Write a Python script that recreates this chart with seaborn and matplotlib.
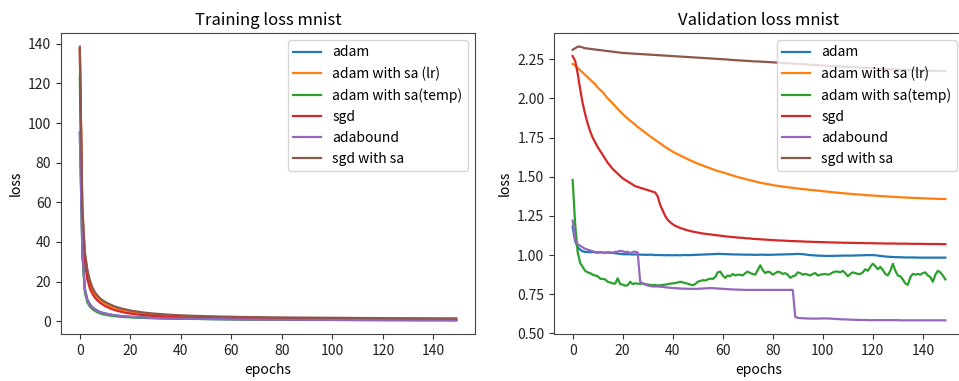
import matplotlib
matplotlib.use("Agg")
import matplotlib.pyplot as plt
import seaborn as sns
import pandas as pd

plt.rcParams["font.family"] = ["Noto Sans CJK KR", "DejaVu Sans"]

epochs = list(range(150))

series_names = ["adam", "adam with sa (lr)", "adam with sa(temp)", "sgd", "adabound", "sgd with sa"]
series_colors = ["#1f77b4", "#ff7f0e", "#2ca02c", "#d62728", "#9467bd", "#8c564b"]

# ---- training loss ----
train_adam = [
    95, 35, 16.5, 10.9, 8.6, 7.1, 6.1, 5.3, 4.7, 4.3,
    3.95, 3.65, 3.4, 3.19, 3.0, 2.85, 2.71, 2.59, 2.48, 2.38,
    2.29, 2.2, 2.12, 2.05, 1.98, 1.92, 1.86, 1.81, 1.76, 1.71,
    1.67, 1.63, 1.59, 1.55, 1.52, 1.48, 1.45, 1.42, 1.39, 1.37,
    1.34, 1.32, 1.29, 1.27, 1.25, 1.23, 1.21, 1.19, 1.17, 1.15,
    1.13, 1.12, 1.10, 1.08, 1.07, 1.05, 1.04, 1.03, 1.01, 1.00,
    0.99, 0.98, 0.96, 0.95, 0.94, 0.93, 0.92, 0.91, 0.90, 0.89,
    0.88, 0.87, 0.86, 0.86, 0.85, 0.84, 0.83, 0.82, 0.82, 0.81,
    0.80, 0.79, 0.79, 0.78, 0.77, 0.77, 0.76, 0.75, 0.75, 0.74,
    0.73, 0.73, 0.72, 0.72, 0.71, 0.70, 0.70, 0.69, 0.69, 0.68,
    0.68, 0.67, 0.67, 0.66, 0.66, 0.65, 0.65, 0.64, 0.64, 0.63,
    0.63, 0.62, 0.62, 0.62, 0.61, 0.61, 0.60, 0.60, 0.60, 0.59,
    0.59, 0.58, 0.58, 0.58, 0.57, 0.57, 0.57, 0.56, 0.56, 0.56,
    0.55, 0.55, 0.55, 0.54, 0.54, 0.54, 0.53, 0.53, 0.53, 0.52,
    0.52, 0.52, 0.52, 0.51, 0.51, 0.51, 0.50, 0.50, 0.50, 0.50,
]
train_adam_sa_lr = [
    137.5, 56, 33, 24, 19, 15.7, 13.5, 12, 10.8, 9.8,
    9.0, 8.3, 7.7, 7.2, 6.7, 6.3, 5.9, 5.6, 5.3, 5.0,
    4.7, 4.5, 4.3, 4.1, 3.95, 3.8, 3.65, 3.5, 3.4, 3.3,
    3.2, 3.1, 3.0, 2.92, 2.85, 2.78, 2.71, 2.64, 2.58, 2.52,
    2.46, 2.41, 2.36, 2.31, 2.27, 2.23, 2.19, 2.15, 2.11, 2.08,
    2.05, 2.02, 1.99, 1.96, 1.93, 1.91, 1.88, 1.86, 1.84, 1.82,
    1.80, 1.78, 1.76, 1.74, 1.72, 1.71, 1.69, 1.67, 1.66, 1.64,
    1.63, 1.62, 1.60, 1.59, 1.58, 1.56, 1.55, 1.54, 1.53, 1.52,
    1.51, 1.50, 1.49, 1.48, 1.47, 1.46, 1.45, 1.44, 1.43, 1.42,
    1.41, 1.40, 1.39, 1.38, 1.38, 1.37, 1.36, 1.35, 1.35, 1.34,
    1.33, 1.32, 1.32, 1.31, 1.30, 1.30, 1.29, 1.28, 1.28, 1.27,
    1.26, 1.26, 1.25, 1.25, 1.24, 1.23, 1.23, 1.22, 1.22, 1.21,
    1.21, 1.20, 1.20, 1.19, 1.19, 1.18, 1.18, 1.17, 1.17, 1.16,
    1.16, 1.15, 1.15, 1.14, 1.14, 1.13, 1.13, 1.13, 1.12, 1.12,
    1.11, 1.11, 1.10, 1.10, 1.10, 1.09, 1.09, 1.08, 1.08, 1.08,
]
train_adam_sa_temp = [
    123, 34, 14.5, 9.5, 7.4, 6.1, 5.2, 4.5, 4.0, 3.6,
    3.3, 3.05, 2.85, 2.68, 2.53, 2.4, 2.29, 2.19, 2.1, 2.02,
    1.95, 1.88, 1.82, 1.77, 1.72, 1.67, 1.63, 1.59, 1.55, 1.52,
    1.49, 1.46, 1.43, 1.40, 1.38, 1.35, 1.33, 1.31, 1.29, 1.27,
    1.25, 1.23, 1.21, 1.20, 1.18, 1.17, 1.15, 1.14, 1.12, 1.11,
    1.10, 1.09, 1.07, 1.06, 1.05, 1.04, 1.03, 1.02, 1.01, 1.00,
    0.99, 0.98, 0.97, 0.96, 0.95, 0.94, 0.93, 0.93, 0.92, 0.91,
    0.90, 0.90, 0.89, 0.88, 0.87, 0.87, 0.86, 0.85, 0.85, 0.84,
    0.84, 0.83, 0.82, 0.82, 0.81, 0.81, 0.80, 0.80, 0.79, 0.79,
    0.78, 0.78, 0.77, 0.77, 0.76, 0.76, 0.75, 0.75, 0.75, 0.74,
    0.74, 0.73, 0.73, 0.73, 0.72, 0.72, 0.71, 0.71, 0.71, 0.70,
    0.70, 0.70, 0.69, 0.69, 0.69, 0.68, 0.68, 0.68, 0.67, 0.67,
    0.67, 0.67, 0.66, 0.66, 0.66, 0.65, 0.65, 0.65, 0.65, 0.64,
    0.64, 0.64, 0.64, 0.63, 0.63, 0.63, 0.63, 0.62, 0.62, 0.62,
    0.62, 0.61, 0.61, 0.61, 0.61, 0.60, 0.60, 0.60, 0.60, 0.60,
]
train_sgd = [
    137, 52, 30, 21, 16.5, 13.8, 11.9, 10.5, 9.4, 8.5,
    7.7, 7.1, 6.5, 6.0, 5.6, 5.2, 4.9, 4.6, 4.3, 4.1,
    3.9, 3.7, 3.55, 3.4, 3.26, 3.13, 3.01, 2.9, 2.8, 2.7,
    2.61, 2.53, 2.45, 2.38, 2.31, 2.25, 2.19, 2.13, 2.08, 2.03,
    1.98, 1.94, 1.90, 1.86, 1.82, 1.78, 1.75, 1.72, 1.69, 1.66,
    1.63, 1.60, 1.58, 1.55, 1.53, 1.51, 1.49, 1.47, 1.45, 1.43,
    1.41, 1.39, 1.38, 1.36, 1.35, 1.33, 1.32, 1.30, 1.29, 1.28,
    1.27, 1.25, 1.24, 1.23, 1.22, 1.21, 1.20, 1.19, 1.18, 1.17,
    1.16, 1.15, 1.15, 1.14, 1.13, 1.12, 1.11, 1.11, 1.10, 1.09,
    1.09, 1.08, 1.07, 1.07, 1.06, 1.05, 1.05, 1.04, 1.04, 1.03,
    1.03, 1.02, 1.02, 1.01, 1.01, 1.00, 1.00, 0.99, 0.99, 0.98,
    0.98, 0.97, 0.97, 0.97, 0.96, 0.96, 0.95, 0.95, 0.95, 0.94,
    0.94, 0.94, 0.93, 0.93, 0.93, 0.92, 0.92, 0.92, 0.91, 0.91,
    0.91, 0.90, 0.90, 0.90, 0.90, 0.89, 0.89, 0.89, 0.88, 0.88,
    0.88, 0.88, 0.87, 0.87, 0.87, 0.87, 0.86, 0.86, 0.86, 0.86,
]
train_adabound = [
    95.5, 36, 16, 10.6, 8.4, 7.0, 6.0, 5.2, 4.6, 4.2,
    3.9, 3.6, 3.35, 3.15, 2.97, 2.82, 2.68, 2.56, 2.45, 2.35,
    2.26, 2.18, 2.1, 2.03, 1.96, 1.9, 1.84, 1.79, 1.74, 1.69,
    1.65, 1.61, 1.57, 1.53, 1.50, 1.46, 1.43, 1.40, 1.37, 1.35,
    1.32, 1.30, 1.27, 1.25, 1.23, 1.21, 1.19, 1.17, 1.15, 1.13,
    1.11, 1.10, 1.08, 1.06, 1.05, 1.03, 1.02, 1.01, 0.99, 0.98,
    0.97, 0.96, 0.94, 0.93, 0.92, 0.91, 0.90, 0.89, 0.88, 0.87,
    0.86, 0.85, 0.84, 0.84, 0.83, 0.82, 0.81, 0.80, 0.80, 0.79,
    0.78, 0.77, 0.77, 0.76, 0.75, 0.75, 0.74, 0.73, 0.73, 0.72,
    0.71, 0.71, 0.70, 0.70, 0.69, 0.68, 0.68, 0.67, 0.67, 0.66,
    0.66, 0.65, 0.65, 0.64, 0.64, 0.63, 0.63, 0.62, 0.62, 0.61,
    0.61, 0.60, 0.60, 0.60, 0.59, 0.59, 0.58, 0.58, 0.58, 0.57,
    0.57, 0.56, 0.56, 0.56, 0.55, 0.55, 0.55, 0.54, 0.54, 0.54,
    0.53, 0.53, 0.53, 0.52, 0.52, 0.52, 0.51, 0.51, 0.51, 0.50,
    0.50, 0.50, 0.50, 0.49, 0.49, 0.49, 0.48, 0.48, 0.48, 0.48,
]
train_sgd_sa = [
    138.5, 58, 35, 26, 20.5, 17, 14.6, 12.9, 11.6, 10.6,
    9.8, 9.1, 8.5, 7.9, 7.4, 7.0, 6.6, 6.3, 6.0, 5.7,
    5.4, 5.2, 5.0, 4.8, 4.6, 4.45, 4.3, 4.15, 4.0, 3.9,
    3.8, 3.7, 3.6, 3.5, 3.42, 3.34, 3.26, 3.19, 3.12, 3.06,
    3.0, 2.94, 2.89, 2.84, 2.79, 2.74, 2.70, 2.66, 2.62, 2.58,
    2.54, 2.51, 2.48, 2.45, 2.42, 2.39, 2.36, 2.33, 2.31, 2.28,
    2.26, 2.24, 2.21, 2.19, 2.17, 2.15, 2.13, 2.11, 2.10, 2.08,
    2.06, 2.04, 2.03, 2.01, 2.00, 1.98, 1.97, 1.95, 1.94, 1.93,
    1.91, 1.90, 1.89, 1.88, 1.87, 1.85, 1.84, 1.83, 1.82, 1.81,
    1.80, 1.79, 1.78, 1.77, 1.76, 1.75, 1.75, 1.74, 1.73, 1.72,
    1.71, 1.70, 1.70, 1.69, 1.68, 1.67, 1.67, 1.66, 1.65, 1.65,
    1.64, 1.63, 1.63, 1.62, 1.61, 1.61, 1.60, 1.60, 1.59, 1.58,
    1.58, 1.57, 1.57, 1.56, 1.56, 1.55, 1.55, 1.54, 1.54, 1.53,
    1.53, 1.52, 1.52, 1.51, 1.51, 1.50, 1.50, 1.49, 1.49, 1.49,
    1.48, 1.48, 1.47, 1.47, 1.47, 1.46, 1.46, 1.45, 1.45, 1.45,
]

# ---- validation loss ----
val_adam = [
    1.18, 1.09, 1.05, 1.035, 1.025, 1.02, 1.02, 1.018, 1.02, 1.018,
    1.017, 1.018, 1.016, 1.015, 1.016, 1.015, 1.014, 1.012, 1.01, 1.008,
    1.006, 1.005, 1.006, 1.005, 1.004, 1.004, 1.005, 1.003, 1.003, 1.002,
    1.002, 1.003, 1.002, 1.0, 1.001, 1.0, 1.0, 0.999, 1.0, 0.999,
    0.999, 1.0, 0.999, 0.999, 1.0, 1.001, 1.0, 1.0, 1.001, 1.002,
    1.002, 1.003, 1.004, 1.004, 1.005, 1.006, 1.006, 1.007, 1.008, 1.008,
    1.007, 1.006, 1.006, 1.005, 1.005, 1.004, 1.004, 1.004, 1.003, 1.003,
    1.003, 1.003, 1.002, 1.002, 1.002, 1.003, 1.003, 1.002, 1.002, 1.002,
    1.003, 1.003, 1.004, 1.004, 1.004, 1.005, 1.005, 1.006, 1.006, 1.007,
    1.008, 1.007, 1.006, 1.004, 1.002, 1.0, 0.999, 0.998, 0.997, 0.996,
    0.996, 0.995, 0.995, 0.995, 0.995, 0.996, 0.996, 0.996, 0.997, 0.997,
    0.997, 0.997, 0.997, 0.998, 0.998, 0.999, 0.999, 1.0, 1.0, 1.0,
    1.0, 0.999, 0.997, 0.995, 0.993, 0.991, 0.99, 0.989, 0.988, 0.987,
    0.987, 0.986, 0.986, 0.985, 0.985, 0.985, 0.985, 0.985, 0.984, 0.984,
    0.984, 0.984, 0.984, 0.984, 0.984, 0.984, 0.984, 0.984, 0.984, 0.984,
]
val_adam_sa_lr = [
    2.22, 2.21, 2.195, 2.18, 2.165, 2.15, 2.135, 2.12, 2.105, 2.09,
    2.07, 2.055, 2.04, 2.02, 2.00, 1.985, 1.968, 1.95, 1.933, 1.917,
    1.90, 1.886, 1.872, 1.858, 1.845, 1.832, 1.818, 1.806, 1.794, 1.782,
    1.77, 1.758, 1.746, 1.735, 1.724, 1.713, 1.702, 1.69, 1.68, 1.67,
    1.66, 1.652, 1.644, 1.636, 1.628, 1.62, 1.612, 1.605, 1.598, 1.591,
    1.584, 1.578, 1.572, 1.566, 1.56, 1.554, 1.548, 1.542, 1.536, 1.533,
    1.528, 1.523, 1.518, 1.513, 1.508, 1.503, 1.498, 1.494, 1.49, 1.486,
    1.482, 1.478, 1.474, 1.47, 1.466, 1.462, 1.459, 1.456, 1.453, 1.45,
    1.447, 1.444, 1.442, 1.44, 1.437, 1.435, 1.433, 1.431, 1.429, 1.427,
    1.425, 1.423, 1.421, 1.42, 1.418, 1.416, 1.415, 1.413, 1.412, 1.41,
    1.408, 1.406, 1.405, 1.403, 1.401, 1.40, 1.398, 1.397, 1.395, 1.394,
    1.392, 1.391, 1.39, 1.388, 1.387, 1.386, 1.385, 1.383, 1.382, 1.381,
    1.38, 1.379, 1.378, 1.377, 1.376, 1.375, 1.374, 1.373, 1.372, 1.371,
    1.37, 1.369, 1.368, 1.368, 1.367, 1.366, 1.365, 1.365, 1.364, 1.363,
    1.363, 1.362, 1.361, 1.361, 1.36, 1.36, 1.359, 1.359, 1.358, 1.358,
]
val_adam_sa_temp = [
    1.48, 1.20, 1.02, 0.95, 0.925, 0.90, 0.89, 0.885, 0.875, 0.87,
    0.865, 0.85, 0.848, 0.845, 0.83, 0.825, 0.82, 0.818, 0.852, 0.815,
    0.812, 0.805, 0.808, 0.83, 0.815, 0.82, 0.818, 0.816, 0.82, 0.815,
    0.812, 0.81, 0.808, 0.81, 0.806, 0.808, 0.81, 0.812, 0.814, 0.818,
    0.82, 0.822, 0.825, 0.83, 0.826, 0.822, 0.818, 0.812, 0.808, 0.815,
    0.83, 0.835, 0.84, 0.838, 0.845, 0.85, 0.848, 0.86, 0.89, 0.895,
    0.87, 0.855, 0.87, 0.865, 0.88, 0.87, 0.875, 0.875, 0.87, 0.885,
    0.895, 0.885, 0.88, 0.875, 0.905, 0.935, 0.905, 0.885, 0.895, 0.89,
    0.875, 0.885, 0.895, 0.89, 0.88, 0.885, 0.875, 0.855, 0.865, 0.87,
    0.89, 0.885, 0.875, 0.88, 0.875, 0.87, 0.88, 0.885, 0.87, 0.875,
    0.878, 0.88, 0.875, 0.88, 0.89, 0.895, 0.895, 0.89, 0.9, 0.885,
    0.865, 0.88, 0.89, 0.885, 0.88, 0.88, 0.89, 0.91, 0.9, 0.925,
    0.945, 0.93, 0.91, 0.925, 0.905, 0.88, 0.87, 0.9, 0.945, 0.9,
    0.87, 0.865, 0.845, 0.82, 0.81, 0.86, 0.88, 0.875, 0.88, 0.875,
    0.885, 0.89, 0.87, 0.86, 0.83, 0.875, 0.9, 0.89, 0.87, 0.845,
]
val_sgd = [
    2.27, 2.24, 2.16, 2.06, 1.97, 1.90, 1.84, 1.79, 1.75, 1.72,
    1.69, 1.665, 1.64, 1.615, 1.59, 1.57, 1.55, 1.535, 1.52, 1.505,
    1.49, 1.48, 1.47, 1.46, 1.45, 1.44, 1.435, 1.43, 1.425, 1.42,
    1.415, 1.41, 1.405, 1.40, 1.375, 1.32, 1.285, 1.25, 1.225, 1.21,
    1.197, 1.187, 1.18, 1.174, 1.168, 1.163, 1.158, 1.154, 1.15, 1.147,
    1.144, 1.141, 1.138, 1.136, 1.134, 1.132, 1.13, 1.128, 1.126, 1.124,
    1.122, 1.12, 1.118, 1.117, 1.115, 1.114, 1.112, 1.111, 1.11, 1.108,
    1.107, 1.106, 1.104, 1.103, 1.102, 1.101, 1.1, 1.099, 1.098, 1.097,
    1.096, 1.095, 1.094, 1.093, 1.093, 1.092, 1.091, 1.09, 1.09, 1.089,
    1.088, 1.088, 1.087, 1.086, 1.086, 1.085, 1.085, 1.084, 1.084, 1.083,
    1.083, 1.082, 1.082, 1.081, 1.081, 1.08, 1.08, 1.08, 1.079, 1.079,
    1.079, 1.078, 1.078, 1.078, 1.077, 1.077, 1.077, 1.076, 1.076, 1.076,
    1.076, 1.075, 1.075, 1.075, 1.075, 1.074, 1.074, 1.074, 1.074, 1.074,
    1.073, 1.073, 1.073, 1.073, 1.073, 1.072, 1.072, 1.072, 1.072, 1.072,
    1.072, 1.071, 1.071, 1.071, 1.071, 1.071, 1.071, 1.07, 1.07, 1.07,
]
val_adabound = [
    1.22, 1.10, 1.07, 1.06, 1.05, 1.04, 1.035, 1.03, 1.025, 1.02,
    1.015, 1.02, 1.018, 1.015, 1.02, 1.017, 1.015, 1.02, 1.022, 1.027,
    1.025, 1.018, 1.022, 1.012, 1.02, 1.022, 1.017, 0.83, 0.82, 0.812,
    0.806, 0.803, 0.80, 0.80, 0.80, 0.799, 0.797, 0.795, 0.793, 0.792,
    0.79, 0.789, 0.788, 0.787, 0.786, 0.786, 0.785, 0.785, 0.785, 0.785,
    0.785, 0.786, 0.787, 0.788, 0.789, 0.79, 0.789, 0.788, 0.787, 0.786,
    0.785, 0.784, 0.783, 0.782, 0.781, 0.78, 0.78, 0.779, 0.779, 0.778,
    0.778, 0.778, 0.778, 0.778, 0.778, 0.778, 0.778, 0.778, 0.778, 0.778,
    0.778, 0.778, 0.778, 0.778, 0.778, 0.778, 0.778, 0.778, 0.778, 0.605,
    0.60, 0.598, 0.597, 0.596, 0.596, 0.595, 0.595, 0.595, 0.595, 0.596,
    0.596, 0.596, 0.596, 0.595, 0.594, 0.593, 0.592, 0.591, 0.59, 0.59,
    0.589, 0.588, 0.588, 0.587, 0.587, 0.586, 0.586, 0.586, 0.585, 0.585,
    0.585, 0.585, 0.585, 0.585, 0.585, 0.585, 0.585, 0.585, 0.585, 0.585,
    0.585, 0.584, 0.584, 0.584, 0.584, 0.584, 0.584, 0.584, 0.584, 0.584,
    0.584, 0.584, 0.584, 0.584, 0.584, 0.584, 0.584, 0.584, 0.584, 0.584,
]
val_sgd_sa = [
    2.31, 2.32, 2.33, 2.33, 2.325, 2.32, 2.318, 2.316, 2.314, 2.312,
    2.31, 2.308, 2.306, 2.304, 2.302, 2.30, 2.298, 2.296, 2.294, 2.292,
    2.29, 2.289, 2.288, 2.287, 2.286, 2.285, 2.284, 2.283, 2.282, 2.281,
    2.28, 2.279, 2.278, 2.277, 2.276, 2.275, 2.274, 2.273, 2.272, 2.271,
    2.27, 2.269, 2.268, 2.267, 2.266, 2.265, 2.264, 2.263, 2.262, 2.261,
    2.26, 2.259, 2.258, 2.257, 2.256, 2.255, 2.254, 2.253, 2.252, 2.251,
    2.25, 2.249, 2.248, 2.246, 2.245, 2.244, 2.243, 2.242, 2.241, 2.240,
    2.239, 2.238, 2.237, 2.236, 2.236, 2.235, 2.234, 2.233, 2.232, 2.231,
    2.23, 2.229, 2.228, 2.227, 2.226, 2.225, 2.224, 2.223, 2.222, 2.221,
    2.22, 2.219, 2.218, 2.217, 2.216, 2.215, 2.214, 2.213, 2.212, 2.211,
    2.21, 2.209, 2.208, 2.207, 2.206, 2.205, 2.205, 2.204, 2.203, 2.202,
    2.201, 2.2, 2.2, 2.199, 2.198, 2.197, 2.196, 2.195, 2.195, 2.194,
    2.193, 2.192, 2.191, 2.19, 2.19, 2.189, 2.188, 2.187, 2.186, 2.186,
    2.185, 2.184, 2.183, 2.183, 2.182, 2.181, 2.18, 2.18, 2.179, 2.179,
    2.178, 2.178, 2.177, 2.177, 2.176, 2.176, 2.175, 2.175, 2.175, 2.174,
]

train_series = [train_adam, train_adam_sa_lr, train_adam_sa_temp, train_sgd, train_adabound, train_sgd_sa]
val_series = [val_adam, val_adam_sa_lr, val_adam_sa_temp, val_sgd, val_adabound, val_sgd_sa]

fig = plt.figure(figsize=(9.59, 3.81), dpi=100)
ax_train = fig.add_axes([61 / 959, 47 / 381, 414 / 959, 301 / 381])
ax_val = fig.add_axes([554 / 959, 47 / 381, 410 / 959, 301 / 381])


def draw_panel(ax, values_list, title):
    for name, color, values in zip(series_names, series_colors, values_list):
        df = pd.DataFrame({"epochs": epochs, "loss": values})
        sns.lineplot(data=df, x="epochs", y="loss", ax=ax, color=color,
                     label=name, linewidth=1.6)
    ax.set_title(title, fontsize=12)
    ax.set_xlabel("epochs")
    ax.set_ylabel("loss")
    ax.set_xticks(range(0, 141, 20))
    ax.tick_params(colors="#333333", labelcolor="#222222")
    for spine in ax.spines.values():
        spine.set_color("#444444")
    ax.legend(loc="upper right", fontsize=10, labelspacing=0.5)


draw_panel(ax_train, train_series, "Training loss mnist")
draw_panel(ax_val, val_series, "Validation loss mnist")

fig.savefig("out.png", dpi=100, facecolor="white")
